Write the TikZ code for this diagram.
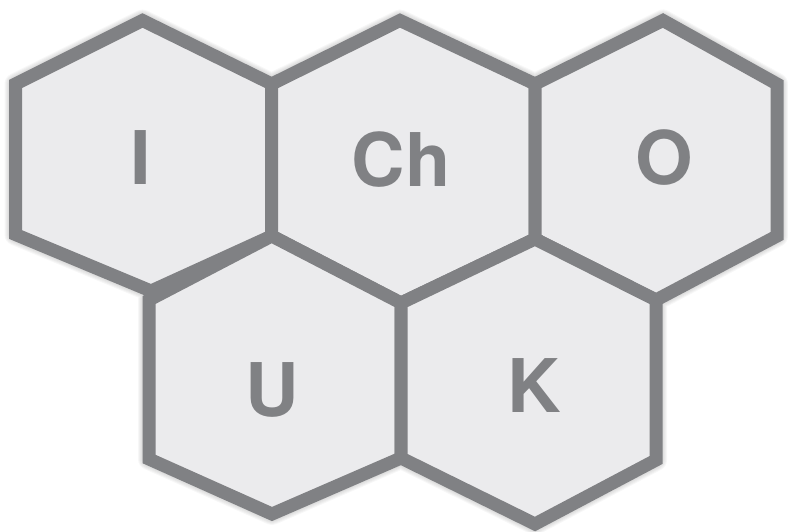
\documentclass[tikz,border=0pt]{standalone}
\usepackage{fontspec}
\setmainfont{TeX Gyre Heros}
\definecolor{hexline}{RGB}{128,129,132}
\definecolor{hexfill}{RGB}{235,235,237}
\begin{document}
\begin{tikzpicture}[x=1pt,y=-1pt,
  hexcell/.style={draw=hexline,fill=hexfill,line width=13pt,line join=miter},
  hexlabel/.style={text=hexline,font=\fontsize{74}{74}\selectfont\bfseries,inner sep=0pt,anchor=center}]
\useasboundingbox (0,0) rectangle (788,532);
% shared vertices
\coordinate (a1) at (15.5,84);
\coordinate (a2) at (142.5,20.5);
\coordinate (a3) at (271.7,84);
\coordinate (a4) at (400,20.5);
\coordinate (a5) at (535,84);
\coordinate (a6) at (663,20.5);
\coordinate (a7) at (777,84);
\coordinate (b1) at (15.5,234.5);
\coordinate (b2) at (151,291);
\coordinate (b3) at (271.7,236);
\coordinate (b4) at (401,303);
\coordinate (b5) at (535,239);
\coordinate (b6) at (656,300);
\coordinate (b7) at (777,236);
\coordinate (u1) at (149,300);
\coordinate (c1) at (149,459);
\coordinate (c2) at (272,514);
\coordinate (c3) at (401,458);
\coordinate (c4) at (535,524);
\coordinate (c5) at (656,460);
% shadow
\foreach \w in {2,4,...,22}{
  \draw[shift={(4,10)},line width=\w pt,draw=black,opacity=0.03,line join=round]
    (a1)--(a2)--(a3)--(a4)--(a5)--(a6)--(a7)--(b7)--(b6)--(c5)--(c4)--(c3)--(c2)--(c1)--(u1)--(b2)--(b1)--cycle;
}
% hexagons
\draw[hexcell] (a1)--(a2)--(a3)--(b3)--(b2)--(b1)--cycle;
\draw[hexcell] (a3)--(a4)--(a5)--(b5)--(b4)--(b3)--cycle;
\draw[hexcell] (a5)--(a6)--(a7)--(b7)--(b6)--(b5)--cycle;
\draw[hexcell] (b3)--(b4)--(c3)--(c2)--(c1)--(u1)--cycle;
\draw[hexcell] (b5)--(b6)--(c5)--(c4)--(c3)--(b4)--cycle;
% labels
\node[hexlabel] (lI) at (141,158) {I};
\node[hexlabel] (lCh) at (401,160) {Ch};
\node[hexlabel] (lO) at (664,158) {O};
\node[hexlabel] (lU) at (272,390) {U};
\node[hexlabel] (lK) at (534,386) {K};
\end{tikzpicture}
\end{document}
